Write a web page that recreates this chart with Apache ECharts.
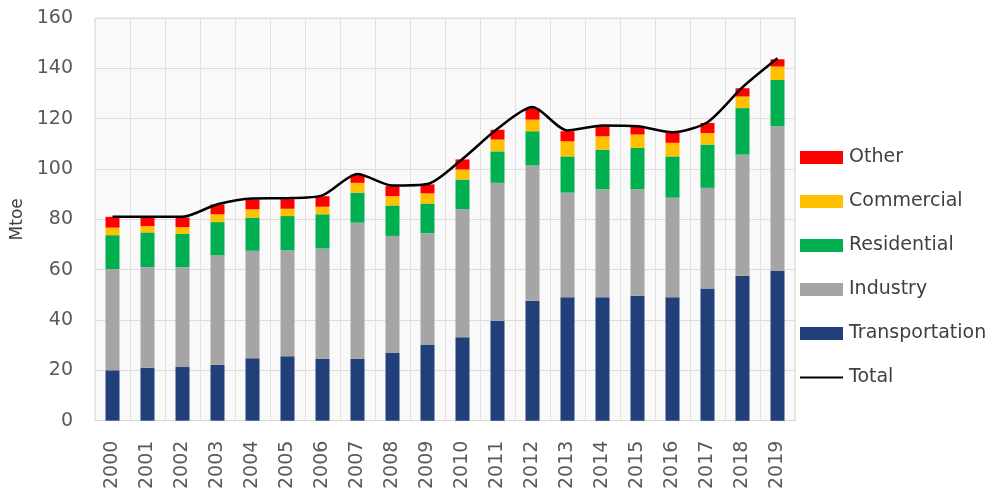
<!DOCTYPE html>
<html>
<head>
<meta charset="utf-8">
<script src="https://cdn.jsdelivr.net/npm/echarts@6/dist/echarts.min.js"></script>
<style>
  html, body { margin: 0; padding: 0; background: #fff; }
  #main { width: 1005px; height: 492px; }
</style>
</head>
<body>
<div id="main"></div>
<script>
const years = ["2000", "2001", "2002", "2003", "2004", "2005", "2006", "2007", "2008", "2009",
  "2010", "2011", "2012", "2013", "2014", "2015", "2016", "2017", "2018", "2019"];

const transportation = [20, 21, 21.3, 22.2, 24.8, 25.6, 24.6, 24.6, 26.9, 30.1,
  33.1, 39.7, 47.6, 49, 49, 49.6, 49, 52.5, 57.6, 59.5];
const industry = [40.2, 40, 39.7, 43.5, 42.7, 42.1, 43.8, 54.1, 46.5, 44.4,
  50.9, 54.8, 53.8, 41.6, 42.9, 42.3, 39.6, 40, 48.1, 57.5];
const residential = [13.5, 13.8, 13.2, 13.2, 13.2, 13.6, 13.6, 11.9, 12.1, 11.8,
  11.8, 12.5, 13.6, 14.4, 15.8, 16.5, 16.4, 17.2, 18.5, 18.4];
const commercial = [3, 2.5, 2.7, 3.1, 3.3, 2.9, 3, 3.9, 3.7, 4,
  4, 4.7, 4.6, 6, 5.3, 5.3, 5.4, 4.6, 4.6, 5.3];
const other = [4.3, 3.6, 3.8, 3.9, 3.9, 3.8, 4.2, 3.3, 4, 3.6,
  4, 3.9, 4.6, 4, 4, 3, 3.9, 4, 3.3, 2.9];
const total = [81, 81, 81, 86, 88.3, 88.4, 89.5, 98, 93.4, 94,
  104, 116, 124.6, 115.3, 117.3, 117, 114.6, 118.6, 132.5, 144];

const yTicks = { min: 0, max: 160, interval: 20 };

const font = "DejaVu Sans";

// thin horizontal stroke as legend icon (tiny corner marks keep the box 43x13)
const lineIcon = "path://M0,0L0.1,0L0.1,0.1Z M0,5.6L43,5.6L43,7.6L0,7.6Z M0,13L0.1,13L0.1,12.9Z";

function barSeries(name, data, color) {
  return {
    name: name,
    type: "bar",
    stack: "use",
    barWidth: 14,
    data: data,
    itemStyle: { color: color },
  };
}

const chart = echarts.init(document.getElementById("main"));

chart.setOption({
  animation: false,
  textStyle: { fontFamily: font },
  grid: {
    left: 95,
    right: 210,
    top: 18,
    bottom: 70,
    show: true,
    backgroundColor: "#F9F9F9",
    borderColor: "#DADADA",
    borderWidth: 1,
  },
  legend: {
    orient: "vertical",
    left: 800,
    top: 148,
    padding: 0,
    itemWidth: 43,
    itemHeight: 13,
    itemGap: 25,
    data: [
      { name: "Other", icon: "rect" },
      { name: "Commercial", icon: "rect" },
      { name: "Residential", icon: "rect" },
      { name: "Industry", icon: "rect" },
      { name: "Transportation", icon: "rect" },
      { name: "Total", icon: lineIcon },
    ],
    textStyle: {
      fontFamily: font,
      fontSize: 19,
      lineHeight: 18,
      color: "#404040",
      padding: [0, 0, 0, 1],
    },
  },
  xAxis: {
    type: "category",
    data: years,
    axisTick: { show: false },
    axisLine: { lineStyle: { color: "#D9D9D9" } },
    splitLine: { show: true, interval: 0, lineStyle: { color: "#E2E2E2" } },
    axisLabel: {
      rotate: 90,
      interval: 0,
      margin: 20,
      fontFamily: font,
      fontSize: 19,
      color: "#595959",
    },
  },
  yAxis: {
    type: "value",
    min: yTicks.min,
    max: yTicks.max,
    interval: yTicks.interval,
    name: "Mtoe",
    nameLocation: "middle",
    nameGap: 68,
    nameTextStyle: { fontFamily: font, fontSize: 17, color: "#404040" },
    axisLine: { show: false },
    axisTick: { show: false },
    splitLine: { lineStyle: { color: "#DCDCDC" } },
    axisLabel: { fontFamily: font, fontSize: 19, color: "#595959", margin: 22 },
  },
  series: [
    barSeries("Transportation", transportation, "#213F78"),
    barSeries("Industry", industry, "#A5A5A5"),
    barSeries("Residential", residential, "#00B050"),
    barSeries("Commercial", commercial, "#FFC000"),
    barSeries("Other", other, "#FF0000"),
    {
      name: "Total",
      type: "line",
      data: total,
      symbol: "none",
      smooth: 0.25,
      z: 5,
      lineStyle: { color: "#000000", width: 2.5 },
      itemStyle: { color: "#000000" },
    },
  ],
});
</script>
</body>
</html>
